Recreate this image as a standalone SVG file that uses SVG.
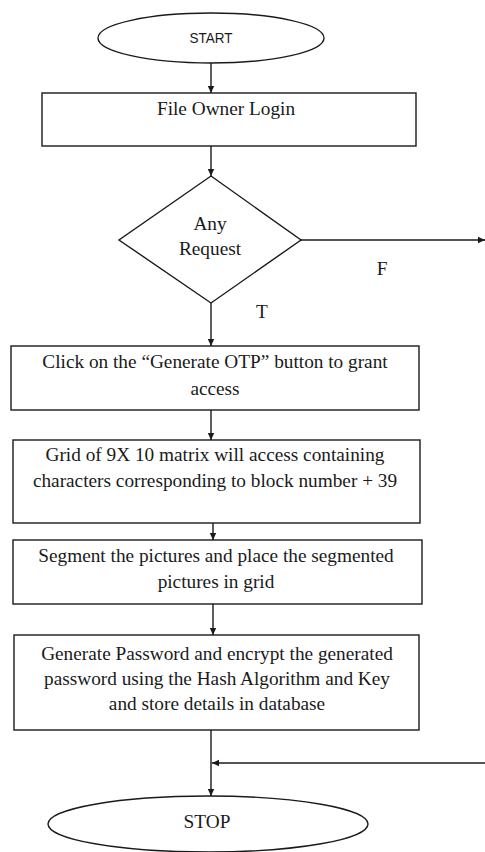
<svg xmlns="http://www.w3.org/2000/svg" width="485" height="852" viewBox="0 0 485 852">
<style>
.shape{fill:#fff;stroke:#1a1a1a;stroke-width:1.4}
.t{font-family:"Liberation Serif","Times New Roman",serif;font-size:19.3px;fill:#1a1a1a;text-anchor:middle}
.s{font-family:"Liberation Sans",Arial,sans-serif;font-size:15.5px;fill:#1a1a1a;text-anchor:middle}
.c{fill:none;stroke:#1a1a1a;stroke-width:1.4}
</style>
<defs>
<marker id="ah" markerUnits="userSpaceOnUse" markerWidth="8" markerHeight="8" refX="7" refY="4" orient="auto">
<path d="M0,0.8 L7,4 L0,7.2 Z" fill="#1a1a1a"/>
</marker>
</defs>
<rect width="485" height="852" fill="#fff"/>
<g id="connectors">
<line class="c" x1="211" y1="63" x2="211" y2="93" marker-end="url(#ah)"/>
<line class="c" x1="211" y1="146" x2="211" y2="176" marker-end="url(#ah)"/>
<line class="c" x1="211" y1="303" x2="211" y2="346" marker-end="url(#ah)"/>
<line class="c" x1="211" y1="410" x2="211" y2="440" marker-end="url(#ah)"/>
<line class="c" x1="213" y1="523" x2="213" y2="540" marker-end="url(#ah)"/>
<line class="c" x1="213" y1="604" x2="213" y2="635" marker-end="url(#ah)"/>
<line class="c" x1="211" y1="730" x2="211" y2="796" marker-end="url(#ah)"/>
<line class="c" x1="301" y1="240" x2="485" y2="240" marker-end="url(#ah)"/>
<line class="c" x1="485" y1="763" x2="212" y2="763" marker-end="url(#ah)"/>
<text class="t" x="262" y="318">T</text>
<text class="t" x="382" y="275">F</text>
</g>
<g id="start">
<ellipse class="shape" cx="211" cy="38" rx="113" ry="25"/>
<text class="s" x="211" y="43" textLength="43" lengthAdjust="spacingAndGlyphs">START</text>
</g>
<g id="login">
<rect class="shape" x="42" y="93" width="374" height="53"/>
<text class="t" x="226" y="115">File Owner Login</text>
</g>
<g id="request">
<polygon class="shape" points="211,176 301,240 211,303 119,240"/>
<text class="t" x="210" y="230">Any</text>
<text class="t" x="210" y="255">Request</text>
</g>
<g id="otp">
<rect class="shape" x="11" y="346" width="408" height="64"/>
<text class="t" x="215" y="368">Click on the “Generate OTP” button to grant</text>
<text class="t" x="215" y="395">access</text>
</g>
<g id="grid">
<rect class="shape" x="13" y="440" width="407" height="83"/>
<text class="t" x="215" y="461">Grid of 9X 10 matrix will access containing</text>
<text class="t" x="215" y="487">characters corresponding to block number + 39</text>
</g>
<g id="segment">
<rect class="shape" x="13" y="540" width="409" height="64"/>
<text class="t" x="216" y="562">Segment the pictures and place the segmented</text>
<text class="t" x="216" y="588">pictures in grid</text>
</g>
<g id="password">
<rect class="shape" x="14" y="635" width="405" height="95"/>
<text class="t" x="217" y="660">Generate Password and encrypt the generated</text>
<text class="t" x="217" y="685">password using the Hash Algorithm and Key</text>
<text class="t" x="217" y="710">and store details in database</text>
</g>
<g id="stop">
<ellipse class="shape" cx="208" cy="824" rx="160" ry="28"/>
<text class="t" x="207" y="828">STOP</text>
</g>
</svg>
